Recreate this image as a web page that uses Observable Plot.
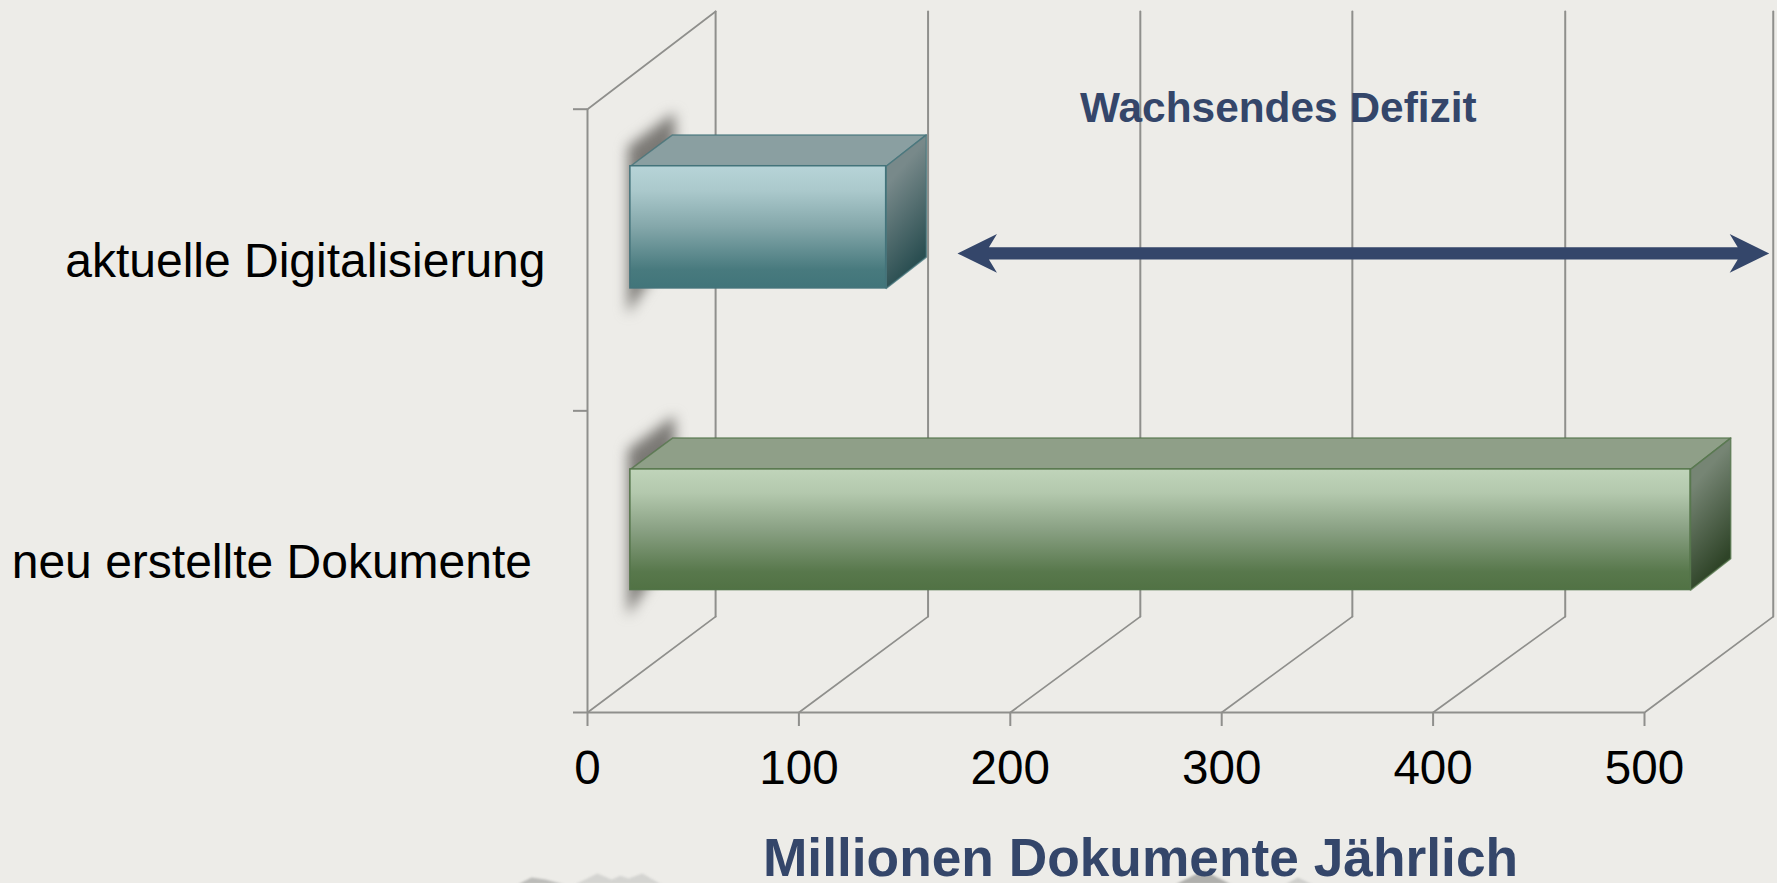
<!DOCTYPE html>
<html><head><meta charset="utf-8">
<script src="https://cdn.jsdelivr.net/npm/d3@7"></script>
<script src="https://cdn.jsdelivr.net/npm/@observablehq/plot@0.6"></script>
<style>html,body{margin:0;padding:0;background:#edece8;overflow:hidden}svg{display:block}</style>
</head><body><div id="chart"></div>
<script>
const categories = ["neu erstellte Dokumente", "aktuelle Digitalisierung"];
const values = [501.5, 121];
const xTicks = [0, 100, 200, 300, 400, 500];
const bandEdges = [0, 1, 2];
const barIds = ["green", "teal"];
const axisTitle = "Millionen Dokumente Jährlich";
const arrowTitle = "Wachsendes Defizit";
const deficitRange = [175, 559];
const backWallShift = [60.6, 61.1, 61.5, 61.8, 62.5, 60.9];

// oblique-projection constants, in scale units
const DX = 60.9, DY = 0.318, D1 = 0.333, D2 = 0.66, D2R = 0.645;
const proj = (v, pos, d) => [v + d * DX, pos + d * DY];

const ink = "#8f8f8c", navy = "#34466a";
const faces = {
  teal: {front: [[0,"#b7d4d8"],[.2,"#abc9cc"],[.5,"#84a7aa"],[.85,"#487a7e"],[1,"#41757a"]], top: "#8a9fa1", side: ["#78898a", "#2b4f52"], stroke: "#43737a"},
  green: {front: [[0,"#c0d4ba"],[.2,"#b3c8ad"],[.5,"#8aa184"],[.85,"#58784c"],[1,"#517244"]], top: "#8f9f88", side: ["#768574", "#2f4428"], stroke: "#537449"}
};

const poly = (pts, o) => Plot.line(pts, {x: d => d[0], y: d => d[1], curve: "linear", ...o});

const defs = () => {
  const g = d3.create("svg:defs");
  for (const k of barIds) {
    const f = g.append("linearGradient").attr("id", "front-" + k).attr("x1", 0).attr("y1", 0).attr("x2", 0).attr("y2", 1);
    for (const [o, c] of faces[k].front) f.append("stop").attr("offset", o).attr("stop-color", c);
    const s = g.append("linearGradient").attr("id", "side-" + k).attr("x1", 0.3).attr("y1", 0).attr("x2", 0.6).attr("y2", 1);
    s.append("stop").attr("offset", 0.22).attr("stop-color", faces[k].side[0]);
    s.append("stop").attr("offset", 0.88).attr("stop-color", faces[k].side[1]);
  }
  return g.node();
};

const wallLines = xTicks.map((v, i) => {
  const b = v + backWallShift[i];
  return [[b, 2 + DY + 0.006], [b, DY]];
});
const floorLines = [
  ...xTicks.map((v, i) => [proj(v, 0, 0), [v + backWallShift[i], DY]]),
  [proj(0, 2, 0), [backWallShift[0], 2 + DY + 0.006]]
];

const barMarks = categories.flatMap((c, i) => {
  const k = barIds[i], v = values[i], lo = i + 0.3, hi = i + 0.7 + (i ? 0.005 : 0), st = faces[k].stroke;
  const A = proj(0, lo, D1), B = proj(v, lo, D1), C = proj(v, hi, D1), E = proj(0, hi, D1);
  const Eb = proj(0, hi, D2), Ab = proj(0, lo, D2);
  const Bb = [proj(v, lo, D2R)[0], Ab[1]], Cb = [proj(v, hi, D2R)[0], Eb[1]];
  const shadow = [[A[0]-1.2, A[1]-0.085], [E[0]-1.2, E[1]+0.065], [Eb[0]+1, Eb[1]+0.075], [Ab[0]+2, Ab[1]+0.06]];
  return [
    poly([...shadow, shadow[0]], {fill: "#7b7975", stroke: "none", imageFilter: "blur(6.5px)"}),
    poly([E, C, Cb, Eb, E], {fill: faces[k].top, stroke: st, strokeWidth: 1.5, strokeOpacity: .75}),
    poly([B, Bb, Cb, C, B], {fill: `url(#side-${k})`, stroke: st, strokeWidth: 1.5, strokeOpacity: .75}),
    Plot.rect([0], {x1: A[0], x2: B[0], y1: A[1], y2: C[1], fill: `url(#front-${k})`, stroke: st, strokeWidth: 1.5})
  ];
});

const [a0, a1] = deficitRange, ay = 1.522;
const arrowPts = [
  [a0, ay], [a0+18.7, ay+.0645], [a0+14.9, ay+.0205], [a1-14.9, ay+.0205], [a1-18.7, ay+.0645],
  [a1, ay], [a1-18.7, ay-.0645], [a1-14.9, ay-.0205], [a0+14.9, ay-.0205], [a0+18.7, ay-.0645], [a0, ay]
];

// faint paper texture fragments peeking out at the bottom edge
const hillsA = [[-33,-.57],[-26.5,-.547],[-20,-.554],[-11,-.57]];
const hillsB = [[-6,-.57],[4.7,-.534],[11.4,-.554],[15.6,-.541],[19.4,-.55],[26,-.534],[35,-.57]];
const hillsC = [[278,-.57],[291.5,-.524],[304.5,-.57]];
const hillsD = [[330,-.57],[336,-.547],[343,-.57]];

const plot = Plot.plot({
  width: 1777, height: 883,
  marginLeft: 587, marginRight: 133, marginTop: 108.7, marginBottom: 171,
  style: {background: "#edece8", fontFamily: "'Liberation Sans', Arial, sans-serif", overflow: "hidden"},
  x: {domain: [0, 500], axis: null},
  y: {domain: [0, 2], axis: null},
  marks: [
    defs,
    poly(hillsA, {fill: "#bcbcb9", stroke: "none", imageFilter: "blur(1px)"}),
    poly(hillsB, {fill: "#d4d4d1", stroke: "none", imageFilter: "blur(1px)"}),
    poly(hillsC, {fill: "#b0b0ad", stroke: "none", imageFilter: "blur(1px)"}),
    poly(hillsD, {fill: "#cfcfcc", stroke: "none", imageFilter: "blur(1px)"}),
    ...wallLines.map(l => poly(l, {stroke: ink, strokeWidth: 2})),
    ...floorLines.map(l => poly(l, {stroke: ink, strokeWidth: 1.7})),
    Plot.ruleY([0], {x1: 0, x2: 500, stroke: ink, strokeWidth: 2}),
    Plot.ruleX([0], {y1: 0, y2: 2, stroke: ink, strokeWidth: 2}),
    Plot.axisX({ticks: xTicks, tickSize: 14, tickPadding: 24, fontSize: 47.6, stroke: ink, strokeOpacity: 1, strokeWidth: 2, fill: "#000", label: null, tickFormat: d => String(d)}),
    Plot.axisY({ticks: bandEdges, tickSize: 14, tickFormat: () => "", stroke: ink, strokeOpacity: 1, strokeWidth: 2, label: null}),
    ...barMarks,
    poly(arrowPts, {fill: navy, stroke: "none"}),
    Plot.text([categories[1]], {text: d => d, x: 0, y: 1.5, textAnchor: "end", dx: -42, dy: 2, fontSize: 48, fill: "#000", lineAnchor: "middle"}),
    Plot.text([categories[0]], {text: d => d, x: 0, y: 0.5, textAnchor: "end", dx: -55.5, dy: 1, fontSize: 48, fill: "#000", lineAnchor: "middle"}),
    Plot.text([arrowTitle], {text: d => d, x: 326.8, y: 2, dy: -1, fontSize: 42.4, fontWeight: "bold", fill: navy, lineAnchor: "middle"}),
    Plot.text([axisTitle], {text: d => d, x: 261.6, y: 0, dy: 146, fontSize: 53.3, fontWeight: "bold", fill: navy, lineAnchor: "middle"})
  ]
});
document.getElementById("chart").append(plot);
</script></body></html>
